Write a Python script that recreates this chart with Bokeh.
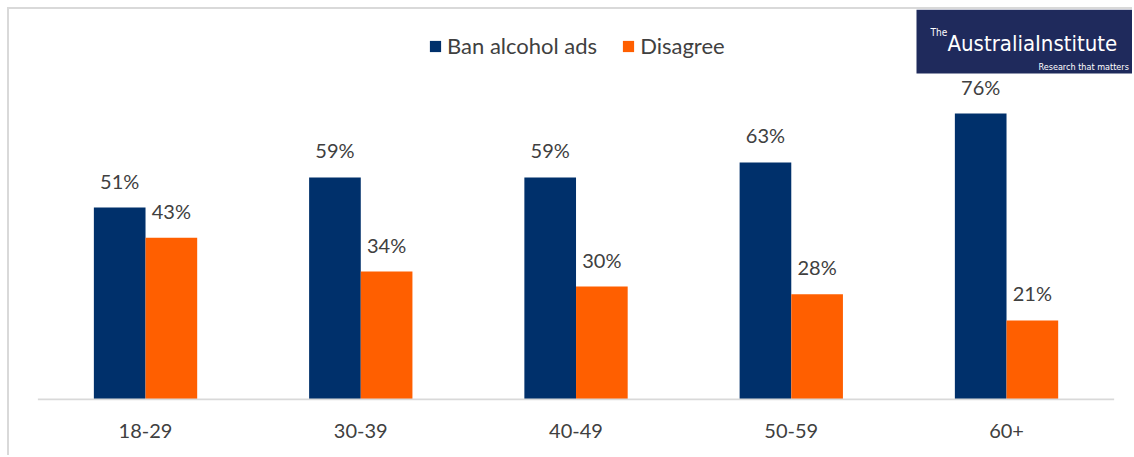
from bokeh.plotting import figure
from bokeh.models import ColumnDataSource, FixedTicker, Legend, LegendItem, BoxAnnotation, Label, Range1d
from bokeh.transform import dodge
from bokeh.core.properties import value
from bokeh.embed import file_html
from bokeh.resources import INLINE

categories = ["18-29", "30-39", "40-49", "50-59", "60+"]
ban_ads = [51, 59, 59, 63, 76]
disagree = [43, 34, 30, 28, 21]
series_names = ["Ban alcohol ads", "Disagree"]

NAVY = "#00306b"
ORANGE = "#ff5f00"
TEXT = "#404040"
FONT = "Lato"
LOGO_FONT = "'DejaVu Sans Condensed', 'DejaVu Sans', sans-serif"

# layout constants (page pixels)
FIG_LEFT = 9
FIG_TOP = 9
W = 1134 - FIG_LEFT
H = 457 - FIG_TOP
SX = 215.25           # px per category
CAT0_PX = 37.4        # page x of category 0 left edge
SY = 3.763            # px per percent
BASE_PX = 399         # page y of 0%
FRAME_BOTTOM_PX = 400

x_start = -(CAT0_PX - FIG_LEFT) / SX
x_end = x_start + W / SX
y_start = -(FRAME_BOTTOM_PX - BASE_PX) / SY
y_end = (BASE_PX - FIG_TOP) / SY

def dx(px):
    return x_start + (px - FIG_LEFT) / SX

def dy(py):
    return (BASE_PX - py) / SY

xs = [i + 0.5 for i in range(len(categories))]
src = ColumnDataSource(dict(
    x=xs, ban=ban_ads, dis=disagree,
    ban_lbl=[f"{v}%" for v in ban_ads],
    dis_lbl=[f"{v}%" for v in disagree],
))

p = figure(width=W, height=H, output_backend="svg", toolbar_location=None,
           x_range=Range1d(x_start, x_end), y_range=Range1d(y_start, y_end),
           min_border_left=0, min_border_right=0, min_border_top=0,
           min_border_bottom=H - (FRAME_BOTTOM_PX - FIG_TOP))
p.styles = {"margin-left": "7px", "margin-top": "7px",
            "border-left": "2px solid #d9d9d9", "border-top": "2px solid #d9d9d9"}
p.outline_line_color = None
p.xgrid.visible = False
p.ygrid.visible = False
p.yaxis.visible = False
p.background_fill_color = "white"
p.border_fill_color = "white"

BW = 0.24
OFF = 0.12
r1 = p.vbar(x=dodge("x", -OFF), top="ban", width=BW, source=src, fill_color=NAVY, line_color=None)
r2 = p.vbar(x=dodge("x", OFF), top="dis", width=BW, source=src, fill_color=ORANGE, line_color=None)

p.text(x=dodge("x", -OFF), y="ban", text="ban_lbl", source=src, text_align="center",
       text_baseline="bottom", y_offset=-15, text_font=value(FONT), text_font_size="20px", text_color=TEXT)
p.text(x=dodge("x", OFF), y="dis", text="dis_lbl", source=src, text_align="center",
       text_baseline="bottom", y_offset=-15, text_font=value(FONT), text_font_size="20px", text_color=TEXT)

# baseline
p.segment(x0=[0], x1=[len(categories)], y0=[0], y1=[0], line_color="#d9d9d9", line_width=2)

ax = p.xaxis[0]
ax.ticker = FixedTicker(ticks=xs)
ax.major_label_overrides = {x: c for x, c in zip(xs, categories)}
ax.axis_line_color = None
ax.major_tick_line_color = None
ax.minor_tick_line_color = None
ax.major_tick_out = 0
ax.major_label_standoff = 23
ax.major_label_text_font = FONT
ax.major_label_text_font_size = "20px"
ax.major_label_text_color = TEXT

legend = Legend(items=[LegendItem(label=series_names[0], renderers=[r1]),
                       LegendItem(label=series_names[1], renderers=[r2])],
                orientation="horizontal", location=(428 - FIG_LEFT, BASE_PX + 1 - 46 - 13),
                padding=0, margin=0, spacing=24, glyph_width=14, glyph_height=14,
                label_standoff=5, label_text_font=FONT, label_text_font_size="22px",
                label_text_color=TEXT, border_line_color=None, background_fill_alpha=0)
p.add_layout(legend, "center")

# logo
p.add_layout(BoxAnnotation(left=dx(916), right=x_end, bottom=dy(73), top=y_end,
                           fill_color="#1f2a5c", fill_alpha=1, line_color=None))
p.add_layout(Label(x=dx(930), y=dy(32), text="The", text_font=LOGO_FONT,
                   text_font_size="10px", text_color="white", text_baseline="alphabetic"))
p.add_layout(Label(x=dx(947), y=dy(43), text="AustraliaInstitute", text_font=LOGO_FONT,
                   text_font_size="22px", text_color="white", text_baseline="alphabetic"))
p.add_layout(Label(x=dx(1038), y=dy(66), text="Research that matters", text_font=LOGO_FONT,
                   text_font_size="9px", text_color="white", text_baseline="alphabetic"))

open("out.html", "w").write(file_html(p, INLINE))
